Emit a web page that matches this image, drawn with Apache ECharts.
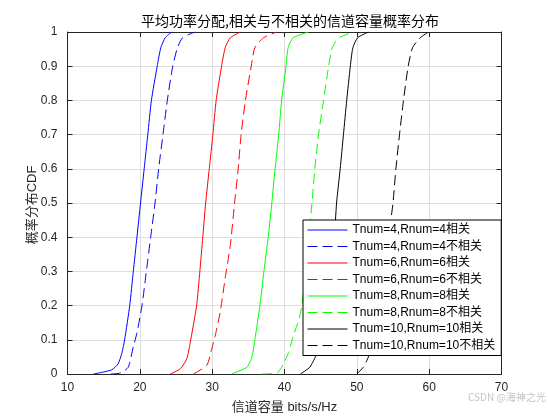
<!DOCTYPE html>
<html>
<head>
<meta charset="utf-8">
<script src="https://cdn.jsdelivr.net/npm/echarts@6/dist/echarts.min.js"></script>
<style>
  html, body { margin: 0; padding: 0; background: #fff; }
  #chart { width: 548px; height: 419px; }
</style>
</head>
<body>
<div id="chart"></div>
<script>
// 曲线数据 [容量, CDF]
var blueSolid = [[13.6,0],[16.1,0.012],[17.0,0.03],[17.5,0.06],[17.9,0.1],[18.6,0.2],[19.1,0.3],[19.6,0.4],[20.1,0.5],[20.6,0.6],[21.1,0.7],[21.6,0.8],[22.4,0.9],[22.9,0.954],[23.5,0.983],[24.4,1.0]];
var blueDash = [[16.0,0],[17.3,0.003],[18.4,0.02],[19.1,0.08],[19.6,0.12],[20.3,0.2],[20.9,0.3],[21.5,0.4],[22.1,0.5],[22.6,0.6],[23.2,0.7],[23.8,0.8],[24.55,0.9],[25.2,0.954],[25.9,0.983],[27.6,1.0]];
var redSolid = [[24.2,0],[25.6,0.015],[26.5,0.045],[26.95,0.09],[27.85,0.2],[28.3,0.3],[28.7,0.4],[29.1,0.5],[29.6,0.6],[30.1,0.7],[30.55,0.8],[31.3,0.9],[31.8,0.954],[32.5,0.983],[33.9,1.0]];
var redDash = [[27.4,0],[29.25,0.025],[29.9,0.07],[30.4,0.11],[31.1,0.18],[31.8,0.28],[32.5,0.375],[33.1,0.5],[33.6,0.6],[34.0,0.7],[34.6,0.8],[35.4,0.9],[35.9,0.954],[37.1,0.983],[38.9,1.0]];
var greenSolid = [[32.7,0],[34.8,0.02],[35.5,0.05],[35.9,0.1],[36.6,0.2],[37.15,0.3],[37.75,0.4],[38.25,0.5],[38.7,0.6],[39.2,0.7],[39.6,0.8],[40.2,0.9],[40.5,0.954],[41.2,0.983],[43.3,1.0]];
var greenDash = [[36.9,0],[39.0,0.003],[39.6,0.02],[40.5,0.06],[41.2,0.11],[42.0,0.16],[42.4,0.2],[42.9,0.3],[43.35,0.4],[43.8,0.5],[44.2,0.6],[44.7,0.7],[45.4,0.8],[46.1,0.9],[46.6,0.954],[47.5,0.983],[49.6,1.0]];
var blackSolid = [[42.2,0],[43.5,0.02],[44.5,0.06],[45.3,0.1],[46.0,0.2],[46.5,0.3],[46.9,0.4],[47.2,0.5],[47.7,0.6],[48.15,0.7],[48.6,0.8],[49.1,0.9],[49.45,0.954],[50.1,0.983],[51.6,1.0]];
var blackDash = [[50.0,0],[50.9,0.02],[51.6,0.05],[52.6,0.12],[53.4,0.22],[54.0,0.33],[54.7,0.45],[55.0,0.5],[55.4,0.6],[55.9,0.7],[56.45,0.8],[57.1,0.9],[57.7,0.954],[58.75,0.983],[59.9,1.0]];

var seriesNames = [
  'Tnum=4,Rnum=4相关', 'Tnum=4,Rnum=4不相关',
  'Tnum=6,Rnum=6相关', 'Tnum=6,Rnum=6不相关',
  'Tnum=8,Rnum=8相关', 'Tnum=8,Rnum=8不相关',
  'Tnum=10,Rnum=10相关', 'Tnum=10,Rnum=10不相关'
];
var seriesData = [blueSolid, blueDash, redSolid, redDash, greenSolid, greenDash, blackSolid, blackDash];
var seriesColors = ['#0000ff', '#0000ff', '#ff0000', '#ff0000', '#00ff00', '#00ff00', '#000000', '#000000'];
var dashed = [false, true, false, true, false, true, false, true];

var xMin = 10, xMax = 70, xStep = 10;
var yMin = 0, yMax = 1, yStep = 0.1;

var ink = '#262626';
var gridColor = '#dedede';
var font = '"Liberation Sans", "Noto Sans CJK SC", sans-serif';

var chart = echarts.init(document.getElementById('chart'), null, { renderer: 'canvas' });

var series = seriesNames.map(function (n, i) {
  return {
    name: n, type: 'line', data: seriesData[i],
    xAxisIndex: 0, yAxisIndex: 0,
    symbol: 'none', smooth: 0.2,
    lineStyle: { color: seriesColors[i], width: 1, type: dashed[i] ? [10, 5] : 'solid' },
    itemStyle: { color: seriesColors[i] },
    z: 3
  };
});

function axisCommon(pos, show) {
  return {
    axisLine: { show: true, onZero: false, lineStyle: { color: ink, width: 1 } },
    axisTick: { show: true, inside: true, length: 5, lineStyle: { color: ink } },
    axisLabel: { show: show, color: ink, fontSize: 12, fontFamily: font },
    position: pos
  };
}

var xBottom = Object.assign(axisCommon('bottom', true), {
  type: 'value', min: xMin, max: xMax, interval: xStep,
  name: '信道容量 bits/s/Hz', nameLocation: 'middle', nameGap: 27,
  nameTextStyle: { color: ink, fontSize: 13, fontFamily: font },
  splitLine: { show: true, lineStyle: { color: gridColor, width: 1 } }
});
xBottom.axisLabel.margin = 8;
var xTop = Object.assign(axisCommon('top', false), {
  type: 'value', min: xMin, max: xMax, interval: xStep, splitLine: { show: false }
});
var yLeft = Object.assign(axisCommon('left', true), {
  type: 'value', min: yMin, max: yMax, interval: yStep,
  splitLine: { show: true, lineStyle: { color: gridColor, width: 1 } }
});
yLeft.axisLabel.margin = 10;
yLeft.axisLabel.formatter = function (v) { return String(Math.round(v * 10) / 10); };
var yRight = Object.assign(axisCommon('right', false), {
  type: 'value', min: yMin, max: yMax, interval: yStep, splitLine: { show: false }
});

chart.setOption({
  animation: false,
  backgroundColor: '#ffffff',
  title: {
    text: '平均功率分配,相关与不相关的信道容量概率分布',
    left: 285, top: 9, textAlign: 'center',
    textStyle: { color: '#000', fontSize: 14, fontWeight: 'normal', fontFamily: '"Noto Sans CJK SC", sans-serif' }
  },
  grid: { left: 67.5, right: 46.5, top: 32, bottom: 43.5, containLabel: false },
  xAxis: [xBottom, xTop],
  yAxis: [yLeft, yRight],
  legend: {
    data: seriesNames,
    orient: 'vertical', left: 303, top: 220,
    itemWidth: 40, itemHeight: 12, itemGap: 4.5,
    padding: [4, 6, 4, 4],
    itemStyle: { opacity: 0 },
    lineStyle: { width: 1 },
    backgroundColor: '#ffffff', borderColor: '#000000', borderWidth: 1, borderRadius: 0,
    textStyle: { color: '#000', fontSize: 12, fontFamily: font, lineHeight: 12 },
    z: 10
  },
  graphic: [
    { type: 'text', x: 32, y: 205, rotation: Math.PI / 2, z: 20,
      style: { text: '概率分布CDF', fill: ink, font: '13px ' + font, align: 'center', verticalAlign: 'middle' } },
    { type: 'text', left: 468, top: 392, z: 20,
      style: { text: 'CSDN @海神之光', fill: '#c4c4c4', font: '10px "Noto Sans CJK SC", sans-serif' } }
  ],
  series: series
});
</script>
</body>
</html>
